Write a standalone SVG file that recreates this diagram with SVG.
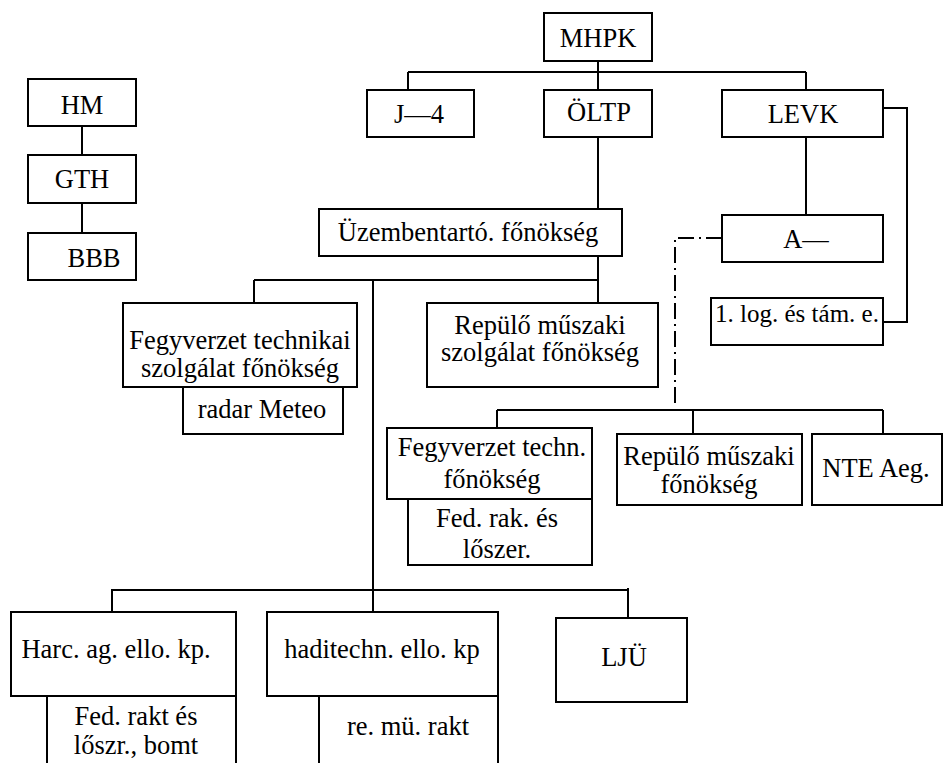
<svg xmlns="http://www.w3.org/2000/svg" width="945" height="763" viewBox="0 0 945 763">
<style>
.b{fill:#fff;stroke:#000;stroke-width:2}
text{font-family:'Liberation Serif','Times New Roman',serif;font-size:26.5px;fill:#000;text-anchor:middle}
.c{fill:none;stroke:#000;stroke-width:2}
.d{fill:none;stroke:#000;stroke-width:2;stroke-dasharray:16 5 2 5}
</style>
<rect width="945" height="763" fill="#fff"/>
<g id="connectors">
<path class="c" d="M82 126V155M82 203V239"/>
<path class="c" d="M598 61V90M408 72H806M408 72V90M806 72V90"/>
<path class="c" d="M598 137V209M806 137V215M883 108H907V322H883"/>
<path class="c" d="M598 256V303M254 280H598M254 280V303M373 280V612"/>
<path class="c" d="M112 590H628M112 589V612M628 588V618"/>
<path class="c" d="M497 410H883M497 410V428M693 410V434M883 410V434"/>
<path class="d" d="M722 238H675V403"/>
</g>
<g id="hm"><rect class="b" x="28" y="79" width="108" height="47"/><text x="82" y="114">HM</text></g>
<g id="gth"><rect class="b" x="28" y="155" width="108" height="48"/><text x="82" y="188">GTH</text></g>
<g id="bbb"><rect class="b" x="28" y="233" width="108" height="47"/><text x="94" y="267">BBB</text></g>
<g id="mhpk"><rect class="b" x="544" y="13" width="108" height="48"/><text x="598" y="47">MHPK</text></g>
<g id="j4"><rect class="b" x="367" y="90" width="107" height="47"/><text x="419" y="123">J—4</text></g>
<g id="oltp"><rect class="b" x="544" y="90" width="108" height="47"/><text x="599" y="121">ÖLTP</text></g>
<g id="levk"><rect class="b" x="722" y="90" width="161" height="47"/><text x="803" y="123">LEVK</text></g>
<g id="uzem"><rect class="b" x="319" y="209" width="303" height="47"/><text x="468" y="241">Üzembentartó. főnökség</text></g>
<g id="a"><rect class="b" x="722" y="215" width="161" height="47"/><text x="806" y="248">A—</text></g>
<g id="log"><rect class="b" x="711" y="298" width="172" height="47"/><text x="797" y="322" style="font-size:25px">1. log. és tám. e.</text></g>
<g id="fegyv-tech"><rect class="b" x="123" y="303" width="234" height="84"/><text x="240" y="349">Fegyverzet technikai</text><text x="240" y="377">szolgálat főnökség</text></g>
<g id="radar"><rect class="b" x="183" y="387" width="160" height="47"/><text x="262" y="418">radar Meteo</text></g>
<g id="repulo-szolg"><rect class="b" x="427" y="303" width="231" height="84"/><text x="540" y="334">Repülő műszaki</text><text x="540" y="361">szolgálat főnökség</text></g>
<g id="fegyv-techn"><rect class="b" x="387" y="428" width="205" height="71"/><text x="492" y="456">Fegyverzet techn.</text><text x="492" y="488">főnökség</text></g>
<g id="fed-rak"><rect class="b" x="408" y="499" width="184" height="66"/><text x="497" y="527">Fed. rak. és</text><text x="497" y="558">lőszer.</text></g>
<g id="repulo-fon"><rect class="b" x="617" y="434" width="185" height="71"/><text x="709" y="465">Repülő műszaki</text><text x="709" y="493">főnökség</text></g>
<g id="nte"><rect class="b" x="812" y="434" width="130" height="71"/><text x="876" y="477">NTE Aeg.</text></g>
<g id="harc"><rect class="b" x="11" y="612" width="225" height="84"/><text x="116" y="658">Harc. ag. ello. kp.</text></g>
<g id="fed-rakt"><rect class="b" x="47" y="696" width="189" height="80"/><text x="136" y="725">Fed. rakt és</text><text x="136" y="754">lőszr., bomt</text></g>
<g id="haditechn"><rect class="b" x="267" y="612" width="231" height="84"/><text x="382" y="658">haditechn. ello. kp</text></g>
<g id="remu"><rect class="b" x="319" y="696" width="179" height="80"/><text x="408" y="735">re. mü. rakt</text></g>
<g id="lju"><rect class="b" x="556" y="618" width="131" height="84"/><text x="624" y="666">LJÜ</text></g>
</svg>
